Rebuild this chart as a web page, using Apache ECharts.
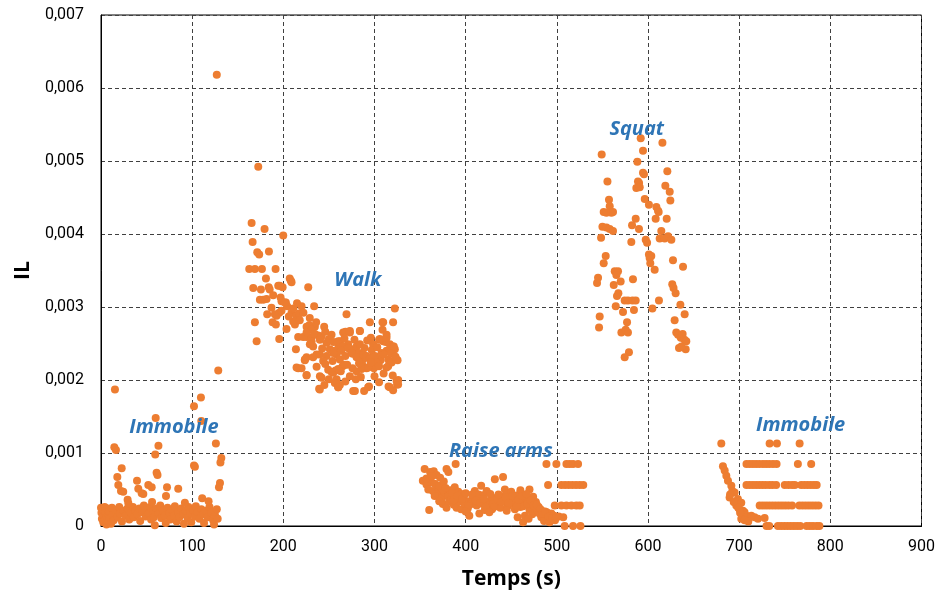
<!DOCTYPE html>
<html><head><meta charset="utf-8">
<script src="https://cdn.jsdelivr.net/npm/echarts@6/dist/echarts.min.js"></script>
<style>html,body{margin:0;padding:0;background:#fff}#c{width:938px;height:595px}</style>
</head><body><div id="c"></div>
<script>
// ---- data ----
const xTicks = [0,100,200,300,400,500,600,700,800,900];
const yTicks = [0,0.001,0.002,0.003,0.004,0.005,0.006,0.007];

const immobile1X = [15.3,109.6,102,60,110,126,14.6,16.4,63,59.5,132,131,102,103,22.7,17.9,61,62,39.5,19,51.9,55.6,72.4,84.7,130.5,129.4,21.9,24.4,40.9,44.6,46.4,71.3,29.2,111,128.6,127,
 0,0.5,1,2,2.5,3,4,4.5,5,6,6.5,7,8,8.5,9,10,11,12,13,14,16,18,20,21,23,25,27,29,31,33,35,36,38,40,42,43,45,47,49,50,52,54,55,57,58,59,61,63,65,66,68,70,71,73,75,76,78,80,81,83,85,86,88,90,91,93,95,96,98,99,101,103,104,106,108,110,112,113,115,117,119,121,123,124,125,127,128,30,56,92,118];
const immobile1Y = [0.00187,0.00176,0.00164,0.00148,0.00144,0.00113,0.00108,0.00104,0.0011,0.00098,0.00093,0.00087,0.00083,0.00081,0.00079,0.00067,0.00073,0.0007,0.00062,0.00056,0.00056,0.00053,0.00053,0.00051,0.00059,0.00053,0.00048,0.00047,0.00051,0.00045,0.00044,0.00041,0.00036,0.00038,0.00213,0.00618,
 0.00025,0.00018,0.0001,0.00022,0.00005,0.00014,0.00026,0.00008,0.00019,0.00002,0.00012,0.00024,0.00016,0.00006,0.0002,0.00011,0.00003,0.00025,0.00015,0.00008,0.00022,0.00012,0.00026,0.00017,0.00006,0.00021,0.00014,0.00024,0.00009,0.00018,0.00026,0.00012,0.00021,0.00016,0.00024,0.00007,0.00019,0.00028,0.00013,0.00022,0.00017,0.00026,0.00009,0.0002,0.00012,0.00001,0.00024,0.00017,0.00028,0.00011,0.00021,0.00014,0.00004,0.00025,0.00018,0.00009,0.00022,0.00014,0.00027,0.00006,0.00019,0.00012,0.00024,0.00016,0.00003,0.00021,0.00011,0.00026,0.00017,0.00005,0.00022,0.00013,0.00027,0.00019,0.0001,0.00023,0.00016,0.00004,0.00021,0.00012,0.00026,0.00018,0.00008,0.00002,0.00015,0.00023,0.0001,0.00031,0.00033,0.00032,0.00034];

const walkX = [172.5,165.2,179.4,199.9,166.3,171.4,173.5,184.2,162.6,168.8,176.5,191.5,180.9,207,167,175.4,184,185,194.4,199.2,174.3,177.9,181.6,188.9,197,202.8,204.2,187,182.3,195.5,192.6,190.7,188.2,191.8,168.8,203.5,195.5,170.7,208.3,209,227.3,220,233.8,209,214.5,217.4,212.7,210.8,225.5,228.4,234.6,244.8,269.3,294.9,308.8,320.4,322.3,216.3,221.8,225.5,231,238.2,252.9,265.6,268.2,273,283.9,308.8,313.2,231,232.7,260.6,262,263.8,271,280.3,276.6,296,298.5,305,309.5,312.4,316.8,320.4,322.3,213.8,242.6,240,256.5,258.4,273,276,283,286,287.5,290.5,298.5,302.2,306.6,315,317.6,325.3,223.6,225.5,216.3,220,236.5,225.5,249.2,252.9,257.3,265,263,275.9,287.5,291.3,299.3,315,242,258.4,279.5,326,324.8,239.3,260.2,262,278.5,288.6,294,315.4,320.4,
 229.1,236.5,232.7,223.6,214.5,225.5,260.2,265.6,263.8,271.1,274.8,280.3,287.5,291.3,294.9,300.4,302.2,307.7,313.2,316.8,321.2,324.2,318.7,313.2,240.1,254.7,260.2,273,280.3,285.8,293,256.5,260.2,240,276.6,293,316.8,325.9,324.2,284,273,305.8,313.2,228.4,231,225.5,234.6,242,240.1,247.4,251,254.7,247.4,243.7,262,267.5,196,198,201.7,309.5,
 198,206,211,215,218,222,229,236,246,250,255,267,278,284,289,292,297,303,310,318,323,268,246,254,270,283,296,305,310,300,285,268,250,245,305,320];
const walkY = [0.00492,0.00415,0.00407,0.00398,0.00389,0.00375,0.00372,0.00376,0.00352,0.00352,0.00352,0.00352,0.00339,0.00339,0.00326,0.00324,0.00327,0.00324,0.00329,0.00327,0.0031,0.0031,0.00311,0.00316,0.00313,0.00306,0.00301,0.00299,0.0029,0.00292,0.00288,0.0029,0.00279,0.00276,0.00279,0.0027,0.00256,0.00253,0.00336,0.00334,0.00327,0.00301,0.00301,0.00292,0.00288,0.00291,0.00276,0.0028,0.00273,0.00273,0.00273,0.00273,0.0029,0.00279,0.00279,0.00279,0.00298,0.00259,0.00259,0.00259,0.00259,0.00261,0.00262,0.00265,0.00266,0.00265,0.00267,0.00269,0.00262,0.00253,0.00246,0.00247,0.00253,0.00247,0.00249,0.00246,0.00242,0.00258,0.00249,0.00255,0.00253,0.00252,0.00249,0.00246,0.00242,0.00242,0.00243,0.00235,0.0024,0.00235,0.00242,0.00236,0.00237,0.00231,0.00228,0.00231,0.00233,0.00229,0.00227,0.00228,0.00225,0.00227,0.00227,0.00231,0.00216,0.00216,0.00218,0.00207,0.00214,0.00211,0.00213,0.00219,0.00212,0.00216,0.00219,0.00216,0.00216,0.00219,0.00203,0.00201,0.00201,0.002,0.00194,0.00188,0.0019,0.00193,0.00185,0.00185,0.00191,0.00191,0.00186,
 0.00249,0.00235,0.00231,0.00228,0.00217,0.00206,0.00253,0.00246,0.0024,0.00244,0.00237,0.00231,0.00235,0.00233,0.00229,0.00233,0.00224,0.00237,0.0024,0.00242,0.00246,0.00228,0.00224,0.00217,0.00205,0.0021,0.00215,0.00205,0.00212,0.00215,0.00217,0.00196,0.0019,0.00187,0.00185,0.0019,0.0019,0.00194,0.00199,0.00267,0.00267,0.00256,0.00258,0.00275,0.00269,0.00265,0.00263,0.0026,0.00255,0.00251,0.00242,0.00237,0.00233,0.00226,0.00228,0.00221,0.00329,0.00308,0.00306,0.00279,
 0.00295,0.00287,0.00298,0.00305,0.00282,0.00292,0.00285,0.00279,0.00266,0.00256,0.00252,0.00257,0.00255,0.00249,0.00244,0.00254,0.00241,0.00245,0.00235,0.00236,0.00232,0.00233,0.00222,0.00226,0.00221,0.00223,0.00224,0.00219,0.00209,0.00205,0.00204,0.00198,0.00201,0.00193,0.00197,0.00206];

const raiseX = [355,361,365,368,372,379,381,389,353,357,362,359,364,369,370,374,377,381,383,388,392,395,398,360,375,379,382,387,390,395,401,404,408,410,414,417,404,415,419,423,425,429,432,441,434,437,440,443,446,450,453,457,460,464,470,474,477,480,485,488,494,497,502,421,429,438,446,454,460,457,465,463,470,473,469,483,486,492,494,
 393,399,402,406,412,413,419,424,430,435,441,448,452,455,459,463,466,468,474,476,479,481,489,366,371,384,375,
 357,363,366,371,376,378,385,387,391,396,400,403,407,411,416,420,422,427,431,436,439,444,447,451,456,458,462,467,471,475,478,482,484,487,491,495,498,400,445,426,
 488.6,499.5,510.5,514,517.8,523.3,490.4,505,509,513,517,521,525,529,497.7,505,510.5,516,521.4,525.1,499.5,507,508.6,517.8,525.9];
const raiseY = [0.00078,0.00074,0.00075,0.0007,0.00066,0.00078,0.00074,0.00085,0.00062,0.00057,0.0006,0.0005,0.00048,0.00053,0.00043,0.00038,0.00046,0.00041,0.00049,0.00053,0.00047,0.00044,0.0004,0.00022,0.0003,0.00025,0.00034,0.00029,0.00025,0.00023,0.0003,0.00034,0.00039,0.00048,0.00043,0.00055,0.00014,0.00017,0.00042,0.00048,0.00034,0.00039,0.00064,0.00067,0.00032,0.00029,0.0004,0.0005,0.00045,0.00047,0.00038,0.00042,0.00049,0.00034,0.0005,0.0004,0.00033,0.00026,0.0002,0.00016,0.00017,0.00014,0.00013,0.00022,0.00023,0.00025,0.00027,0.00023,0.00026,0.00012,0.00014,0.00005,0.00022,0.00016,0.0001,0.00012,0.00007,0.00005,0.00009,
 0.00034,0.0003,0.00023,0.0003,0.00028,0.00034,0.0003,0.00028,0.0003,0.00037,0.00034,0.00034,0.0003,0.00032,0.00034,0.00027,0.00039,0.0003,0.0003,0.00023,0.00021,0.00017,0.00019,0.00041,0.00034,0.00037,0.0005,
 0.00065,0.00068,0.00058,0.00055,0.00061,0.00052,0.00045,0.00036,0.00041,0.00037,0.00045,0.00027,0.00043,0.00035,0.00031,0.00037,0.00026,0.00044,0.00026,0.00043,0.00033,0.00039,0.00031,0.00041,0.00027,0.00036,0.00041,0.00044,0.00035,0.00028,0.00029,0.00023,0.00017,0.0002,0.00013,0.00011,0.00008,0.0002,0.00021,0.00019,
 0.00085,0.00085,0.00085,0.00085,0.00085,0.00085,0.00056,0.00056,0.00056,0.00056,0.00056,0.00056,0.00056,0.00056,0.00028,0.00028,0.00028,0.00028,0.00028,0.00028,0.00012,0.00012,0,0,0];

const squatX = [592,615.8,594.5,549.2,588.3,621.2,594.5,595.6,555.5,589,590.2,619,587.2,590.9,623.8,624.5,557.2,596.4,601,558,551.4,554.4,559.9,561.6,609.2,611,611.7,586.5,608.4,620.5,582.5,590.1,550,554.4,558,561.6,548.5,614.6,612.8,618.3,622,625.6,581.7,597.5,599,553.6,601,603.6,601.8,627.4,551.4,602.5,638.4,607.3,563.5,567.1,565.3,583.5,545.2,544.1,570,626.6,628,630.3,562.4,567.5,566,574.4,578,582.9,586.5,564.6,612,635.5,604.8,572.6,584.6,640.2,547,629.2,577,546.3,631,633,636,638,640,642,570.8,575.5,578,634,641.3,636.6,579.1,574.4];
const squatY = [0.00531,0.00525,0.00514,0.00509,0.00499,0.00486,0.00484,0.00482,0.00472,0.00472,0.0047,0.00466,0.00463,0.00464,0.00458,0.00446,0.00447,0.00448,0.0044,0.00438,0.0043,0.00429,0.00429,0.0043,0.00437,0.00432,0.0043,0.00421,0.00421,0.00421,0.00412,0.00407,0.0041,0.00409,0.00407,0.00404,0.00395,0.00404,0.00394,0.00394,0.00397,0.00392,0.00389,0.00392,0.00388,0.0037,0.00372,0.0037,0.00367,0.00364,0.0036,0.0036,0.00355,0.00351,0.00349,0.00349,0.00344,0.00338,0.0034,0.00333,0.00335,0.00331,0.00326,0.00319,0.0033,0.00319,0.00315,0.00309,0.00309,0.00309,0.00309,0.00301,0.00309,0.00303,0.00298,0.00293,0.00296,0.0029,0.00287,0.00282,0.00279,0.00272,0.00265,0.00262,0.00258,0.00263,0.00255,0.00253,0.00265,0.00269,0.00265,0.00244,0.00242,0.00246,0.00238,0.00231];

const immobile2X = [680.4,733.4,741.4,766.3,
 708,711.5,715,718.5,722,726,729.5,733,737,741,764.4,779,
 708,711.5,715,718.5,722,725.5,729,733,736.5,740.5,750,754,758,761,768,771.5,775,778.5,782,785,
 722.5,726,729.5,733,736.5,740,743.5,747,750.5,754,758,766,769.5,773,776.5,780,783.5,787,
 730,733,742.5,746,749.5,753,756.5,760,763.5,767,774,777.5,781,785,788,
 682.2,684.1,685.9,687.7,691.4,692.5,689.5,695,698.6,696.8,702.3,700.4,704.1,705.9,707.7,702.3,713.3,716.9,720.6,727.9,690,694,699,701,706,710];
const immobile2Y = [0.00113,0.00113,0.00113,0.00113,
 0.00085,0.00085,0.00085,0.00085,0.00085,0.00085,0.00085,0.00085,0.00085,0.00085,0.00085,0.00085,
 0.00056,0.00056,0.00056,0.00056,0.00056,0.00056,0.00056,0.00056,0.00056,0.00056,0.00056,0.00056,0.00056,0.00056,0.00056,0.00056,0.00056,0.00056,0.00056,0.00056,
 0.00028,0.00028,0.00028,0.00028,0.00028,0.00028,0.00028,0.00028,0.00028,0.00028,0.00028,0.00028,0.00028,0.00028,0.00028,0.00028,0.00028,0.00028,
 0,0,0,0,0,0,0,0,0,0,0,0,0,0,0,
 0.00082,0.00076,0.00069,0.00062,0.00055,0.00048,0.00039,0.00046,0.00037,0.00028,0.00032,0.00023,0.00021,0.00019,0.00014,0.0001,0.00014,0.00012,0.0001,0.00011,0.00043,0.00033,0.00025,0.00018,0.00008,0.00006];

const labelNames = ['Immobile','Walk','Raise arms','Squat','Immobile'];
const labelX = [80,281.7,438.5,587.6,767.4];
const labelY = [0.00135,0.00336,0.00103,0.00544,0.00138];

// ---- build ----
const zip = (xs, ys) => xs.map((x, i) => [x, ys[i]]);
const orange = '#ED7D31';
const ptSeries = (xs, ys) => ({
  type: 'scatter', data: zip(xs, ys), symbol: 'circle', symbolSize: 8,
  itemStyle: { color: orange, opacity: 1 }, silent: true, animation: false
});
const chart = echarts.init(document.getElementById('c'), null, { renderer: 'canvas' });
chart.setOption({
  animation: false,
  backgroundColor: '#fff',
  grid: { left: 101, right: 16, top: 15, bottom: 68, show: true, borderColor: '#000', borderWidth: 1, backgroundColor: 'transparent' },
  xAxis: {
    type: 'value', min: xTicks[0], max: xTicks[xTicks.length - 1], interval: 100,
    name: 'Temps (s)', nameLocation: 'middle', nameGap: 43,
    nameTextStyle: { fontFamily: 'Open Sans', fontWeight: 'bold', fontSize: 21, color: '#000' },
    axisLine: { show: true, onZero: false, lineStyle: { color: '#000', width: 1 } },
    axisTick: { show: false },
    axisLabel: { fontFamily: 'Roboto', fontSize: 16, color: '#000', margin: 13 },
    splitLine: { show: true, lineStyle: { color: '#404040', type: [4, 3], width: 1 } }
  },
  yAxis: {
    type: 'value', min: yTicks[0], max: yTicks[yTicks.length - 1], interval: 0.001,
    name: 'IL', nameLocation: 'middle', nameGap: 62, nameRotate: 90,
    nameTextStyle: { fontFamily: 'Open Sans', fontWeight: 'bold', fontSize: 21, color: '#000' },
    axisLine: { show: true, lineStyle: { color: '#000', width: 1 } },
    axisTick: { show: false },
    axisLabel: { fontFamily: 'Roboto', fontSize: 16, color: '#000', margin: 17,
      formatter: v => v === 0 ? '0' : v.toFixed(3).replace('.', ',') },
    splitLine: { show: true, lineStyle: { color: '#404040', type: [4, 3], width: 1 } }
  },
  series: [
    ptSeries(immobile1X, immobile1Y),
    ptSeries(walkX, walkY),
    ptSeries(raiseX, raiseY),
    ptSeries(squatX, squatY),
    ptSeries(immobile2X, immobile2Y),
    {
      type: 'scatter', silent: true, symbolSize: 2, itemStyle: { color: 'rgba(0,0,0,0)', opacity: 1 }, z: 10,
      data: labelNames.map((n, i) => ({ value: [labelX[i], labelY[i]], name: n })),
      label: { show: true, position: 'inside', formatter: p => p.name, opacity: 1,
        fontFamily: 'Open Sans', fontStyle: 'italic', fontWeight: 'bold', fontSize: 20, color: '#2E75B6' },
      labelLayout: { hideOverlap: false }
    }
  ]
});
</script></body></html>
